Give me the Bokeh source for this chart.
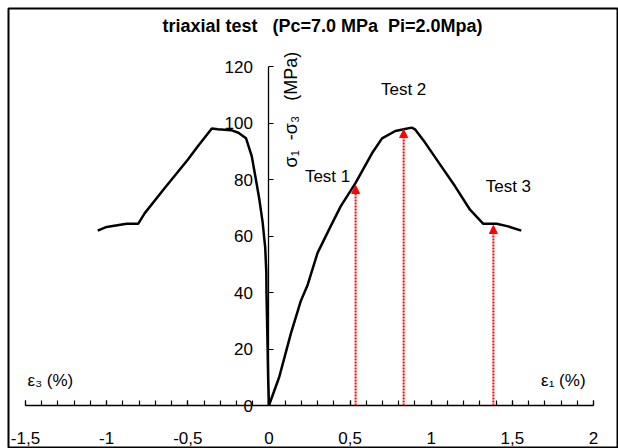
from bokeh.plotting import figure
from bokeh.models import (ColumnDataSource, SingleIntervalTicker, CustomJSTickFormatter,
                          Label, Arrow, NormalHead, Range1d)
from bokeh.embed import file_html
from bokeh.resources import INLINE
from bokeh.core.properties import value
import math

# ---- data ----
# right branch: axial strain eps1 (%) vs deviatoric stress (MPa)
eps1 = [0, 0.063, 0.135, 0.196, 0.237, 0.299, 0.38, 0.442, 0.534, 0.636, 0.697,
        0.779, 0.83, 0.88, 0.9, 0.963, 1.055, 1.147, 1.239, 1.321, 1.403, 1.474, 1.555]
q_eps1 = [0, 10, 25.5, 37, 42.5, 54, 63.5, 70.6, 78.9, 89.5, 94.7,
          97.3, 97.9, 98.5, 97.9, 93.1, 85.4, 77.7, 69.4, 64.4, 64.4, 63.5, 62]
# left branch: lateral strain eps3 (%) vs deviatoric stress (MPa)
eps3 = [0, -0.005, -0.008, -0.015, -0.016, -0.023, -0.039, -0.059, -0.08, -0.106, -0.141,
        -0.188, -0.233, -0.315, -0.352, -0.438, -0.499, -0.642, -0.765, -0.806, -0.877, -1.0, -1.055]
q_eps3 = [0, 10, 20, 40, 47, 56, 65, 73, 80, 88.4, 94.7,
          96.7, 97.6, 97.9, 98.2, 91.9, 87.2, 77.1, 68.2, 64.4, 64.4, 63.3, 62]
# test points (arrows)
test_names = ["Test 1", "Test 2", "Test 3"]
test_eps = [0.534, 0.83, 1.383]
test_q = [78.0, 97.8, 63.8]

NB = "\u00a0"
title_text = "triaxial test" + NB * 3 + "(Pc=7.0 MPa" + NB * 2 + "Pi=2.0Mpa)"
x_ticks_interval = 0.5
y_ticks_interval = 20

FONT = "Liberation Sans"

p = figure(width=618, height=448, output_backend="svg", toolbar_location=None,
           x_range=Range1d(-1.6048, 2.154), y_range=Range1d(-15.24, 140.73),
           min_border=0, min_border_left=8, min_border_top=8,
           background_fill_color="white", border_fill_color="white")
p.grid.visible = False
p.outline_line_color = "black"
p.outline_line_width = 2

# x axis at y = 0
xa = p.xaxis[0]
xa.fixed_location = 0
xa.bounds = (-1.5, 2)
xa.ticker = SingleIntervalTicker(interval=x_ticks_interval, num_minor_ticks=5)
xa.formatter = CustomJSTickFormatter(code="return (Math.round(tick*10)/10).toString().replace('.', ',');")
xa.major_tick_in = 5
xa.major_tick_out = 0
xa.minor_tick_in = 5
xa.minor_tick_out = 0
xa.axis_line_width = 1.3
xa.major_tick_line_width = 1.2
xa.minor_tick_line_width = 1.2
xa.major_label_standoff = 26
xa.major_label_text_font = FONT
xa.major_label_text_font_size = "17px"
xa.major_label_text_color = "black"

# y axis at x = 0
ya = p.yaxis[0]
ya.fixed_location = 0
ya.bounds = (0, 120)
ya.ticker = SingleIntervalTicker(interval=y_ticks_interval, num_minor_ticks=0)
ya.major_tick_in = 5
ya.major_tick_out = 0
ya.minor_tick_in = 0
ya.minor_tick_out = 0
ya.axis_line_width = 1.3
ya.major_tick_line_width = 1.2
ya.major_label_standoff = 16
ya.major_label_text_font = FONT
ya.major_label_text_font_size = "17px"
ya.major_label_text_color = "black"

# curves
p.line(eps1, q_eps1, line_color="black", line_width=2.5)
p.line(eps3, q_eps3, line_color="black", line_width=2.5)

# arrows
src = ColumnDataSource(dict(x=test_eps, y0=[0] * len(test_eps), y=test_q))
p.add_layout(Arrow(end=NormalHead(size=8, fill_color="red", line_color="red", line_width=1),
                   x_start="x", y_start="y0", x_end="x", y_end="y", source=src,
                   line_color="red", line_width=2, line_dash="2 1"))
lab_src = ColumnDataSource(dict(x=test_eps, y=test_q, name=test_names,
                                dx=[-28, 0, 15], dy=[-9, -40, -39]))
p.text(x="x", y="y", text="name", x_offset="dx", y_offset="dy", source=lab_src,
       text_font=value(FONT), text_font_size="17px", text_align="center",
       text_baseline="middle", text_color="black")

# title
p.add_layout(Label(x=0.33, y=134.6, text=title_text, text_font=FONT, text_font_size="18px",
                   text_font_style="bold", text_align="center", text_baseline="middle",
                   text_color="black"))
# axis titles
p.add_layout(Label(x=-1.487, y=8.9, text="ε₃ (%)", text_font=FONT, text_font_size="17px",
                   text_align="left", text_baseline="middle", text_color="black"))
p.add_layout(Label(x=1.951, y=8.9, text="ε₁ (%)", text_font=FONT, text_font_size="17px",
                   text_align="right", text_baseline="middle", text_color="black"))
p.add_layout(Label(x=0.138, y=104.9, text="σ₁" + NB * 2 + "-σ₃" + NB * 3 + "(MPa)",
                   text_font=FONT, text_font_size="18px",
                   text_align="center", text_baseline="middle", angle=math.pi / 2,
                   text_color="black"))

open("out.html", "w").write(file_html(p, INLINE))
